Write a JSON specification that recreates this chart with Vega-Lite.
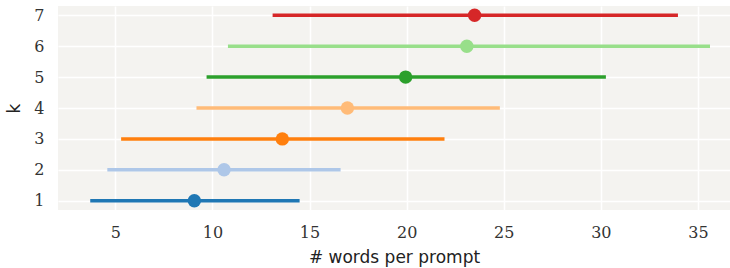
{
  "$schema": "https://vega.github.io/schema/vega-lite/v6.json",
  "autosize": "none",
  "width": 672,
  "height": 204,
  "padding": {"left": 58, "top": 6, "right": 0, "bottom": 58},
  "background": "white",
  "config": {
    "view": {"fill": "#f4f3f0", "stroke": null},
    "axisX": {"labelFont": "DejaVu Serif", "labelFontSize": 16, "titleFont": "DejaVu Sans", "titleFontSize": 17},
    "axisY": {"labelFont": "DejaVu Serif", "labelFontSize": 16, "titleFont": "DejaVu Sans", "titleFontSize": 17}
  },
  "data": {
    "values": [
      {"k": 1, "lo": 3.71, "hi": 14.49, "mean": 9.07},
      {"k": 2, "lo": 4.59, "hi": 16.6, "mean": 10.6},
      {"k": 3, "lo": 5.3, "hi": 21.95, "mean": 13.6},
      {"k": 4, "lo": 9.18, "hi": 24.8, "mean": 16.95},
      {"k": 5, "lo": 9.7, "hi": 30.26, "mean": 19.95},
      {"k": 6, "lo": 10.8, "hi": 35.62, "mean": 23.1},
      {"k": 7, "lo": 13.1, "hi": 33.97, "mean": 23.5}
    ]
  },
  "encoding": {
    "y": {
      "field": "k",
      "type": "quantitative",
      "scale": {"domain": [0.7, 7.3], "nice": false, "zero": false},
      "axis": {
        "values": [1, 2, 3, 4, 5, 6, 7], "title": "k", "labelPadding": 14, "titlePadding": 10,
        "domain": false, "ticks": false, "grid": true, "gridColor": "white", "gridWidth": 1.6,
        "labelFont": "DejaVu Serif", "labelFontSize": 16, "labelColor": "#333333",
        "titleFont": "DejaVu Sans", "titleFontSize": 17, "titleFontWeight": "normal", "titleColor": "#222222"
      }
    },
    "x": {
      "field": "lo",
      "type": "quantitative",
      "scale": {"domain": [2.05, 36.65], "nice": false, "zero": false},
      "axis": {
        "values": [5, 10, 15, 20, 25, 30, 35], "title": "# words per prompt", "labelPadding": 14, "titlePadding": 9,
        "domain": false, "ticks": false, "grid": true, "gridColor": "white", "gridWidth": 1.6,
        "labelFont": "DejaVu Serif", "labelFontSize": 16, "labelColor": "#333333",
        "titleFont": "DejaVu Sans", "titleFontSize": 17, "titleFontWeight": "normal", "titleColor": "#222222"
      }
    },
    "color": {
      "field": "k",
      "type": "nominal",
      "scale": {"domain": [1, 2, 3, 4, 5, 6, 7], "range": ["#1f77b4", "#aec7e8", "#ff7f0e", "#ffbb78", "#2ca02c", "#98df8a", "#d62728"]},
      "legend": null
    }
  },
  "layer": [
    {
      "mark": {"type": "rule", "strokeWidth": 3.5},
      "encoding": {
        "x2": {"field": "hi"}
      }
    },
    {
      "mark": {"type": "point", "filled": true, "opacity": 1, "size": 180},
      "encoding": {
        "x": {"field": "mean", "type": "quantitative"}
      }
    }
  ]
}
